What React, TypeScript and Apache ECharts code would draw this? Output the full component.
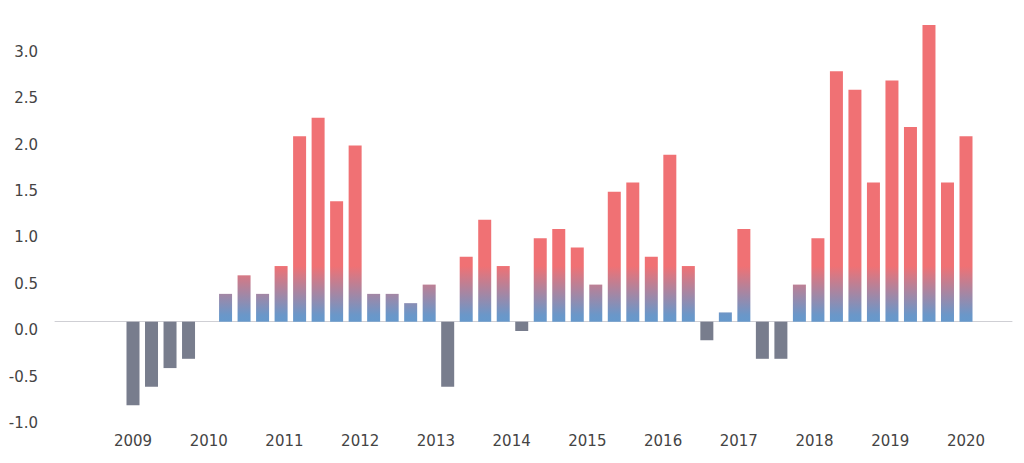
import React, { useEffect, useRef } from "react";
import * as echarts from "echarts";

const quarters: string[] = [];
for (let y = 2009; y <= 2020; y++) {
  for (let q = 1; q <= 4; q++) {
    if (y === 2020 && q > 2) break;
    quarters.push(`Q${q} ${y}`);
  }
}

const yearLabels = ["2009", "2010", "2011", "2012", "2013", "2014", "2015", "2016", "2017", "2018", "2019", "2020"];

const values: (number | null)[] = [
  -0.9, -0.7, -0.5, -0.4,
  null, 0.3, 0.5, 0.3,
  0.6, 2.0, 2.2, 1.3,
  1.9, 0.3, 0.3, 0.2,
  0.4, -0.7, 0.7, 1.1,
  0.6, -0.1, 0.9, 1.0,
  0.8, 0.4, 1.4, 1.5,
  0.7, 1.8, 0.6, -0.2,
  0.1, 1.0, -0.4, -0.4,
  0.4, 0.9, 2.7, 2.5,
  1.5, 2.6, 2.1, 3.2,
  1.5, 2.0,
];

const yTicks = { min: -1, max: 3.4, interval: 0.5 };

const RED = "#f07174";
const BLUE = "#6699cc";
const GRAY = "#787d8d";
const GRADIENT_TOP_VALUE = 0.6;

export default function App() {
  const ref = useRef<HTMLDivElement>(null);

  useEffect(() => {
    if (!ref.current) return;
    const chart = echarts.init(ref.current, null, { renderer: "svg" });
    const font = "DejaVu Sans";
    const option: any = {
      animation: false,
      backgroundColor: "#ffffff",
      grid: [
        { left: 55, right: 12, top: 6.35, bottom: 48.55 },
        { left: 133, right: 58, top: 6.35, bottom: 48.55 },
      ],
      xAxis: [
        {
          gridIndex: 0,
          type: "value",
          min: 0,
          max: 1,
          axisLine: { show: true, onZero: true, lineStyle: { color: "#cfcfd4", width: 1 } },
          axisTick: { show: false },
          axisLabel: { show: false },
          splitLine: { show: false },
        },
        {
          gridIndex: 1,
          type: "category",
          data: quarters,
          boundaryGap: false,
          axisLine: { show: false },
          axisTick: { show: false },
          axisLabel: { show: false },
          splitLine: { show: false },
        },
        {
          gridIndex: 1,
          type: "category",
          data: yearLabels,
          boundaryGap: false,
          position: "bottom",
          axisLine: { show: false },
          axisTick: { show: false },
          splitLine: { show: false },
          axisLabel: {
            show: true,
            interval: 0,
            margin: 19,
            color: "#444444",
            fontFamily: font,
            fontSize: 15,
          },
        },
      ],
      yAxis: [
        {
          gridIndex: 0,
          type: "value",
          min: yTicks.min,
          max: yTicks.max,
          interval: yTicks.interval,
          axisLine: { show: false },
          axisTick: { show: false },
          splitLine: { show: false },
          axisLabel: {
            show: true,
            showMaxLabel: false,
            margin: 17,
            color: "#444444",
            fontFamily: font,
            fontSize: 15,
            verticalAlign: "top",
            lineHeight: 17,
            formatter: (v: number) => v.toFixed(1),
          },
        },
        {
          gridIndex: 1,
          type: "value",
          min: yTicks.min,
          max: yTicks.max,
          interval: yTicks.interval,
          show: false,
        },
      ],
      series: [
        {
          id: "bars",
          type: "bar",
          xAxisIndex: 1,
          yAxisIndex: 1,
          barWidth: 13,
          clip: false,
          data: values.map((v) => ({ value: v, itemStyle: { color: v !== null && v < 0 ? GRAY : RED } })),
        },
      ],
    };
    chart.setOption(option);

    const y0 = chart.convertToPixel({ yAxisIndex: 1 } as any, 0) as number;
    const y1 = chart.convertToPixel({ yAxisIndex: 1 } as any, GRADIENT_TOP_VALUE) as number;
    const grad = new echarts.graphic.LinearGradient(
      0,
      y0,
      0,
      y1,
      [
        { offset: 0, color: BLUE },
        { offset: 0.12, color: "#6a97c9" },
        { offset: 1, color: RED },
      ],
      true
    );
    chart.setOption({
      series: [
        {
          id: "bars",
          data: values.map((v) => ({
            value: v,
            itemStyle: { color: v !== null && v < 0 ? GRAY : grad },
          })),
        },
      ],
    });

    return () => chart.dispose();
  }, []);

  return (
    <div
      ref={ref}
      style={{ position: "absolute", left: 0, top: 0, width: 1024, height: 463 }}
    />
  );
}
